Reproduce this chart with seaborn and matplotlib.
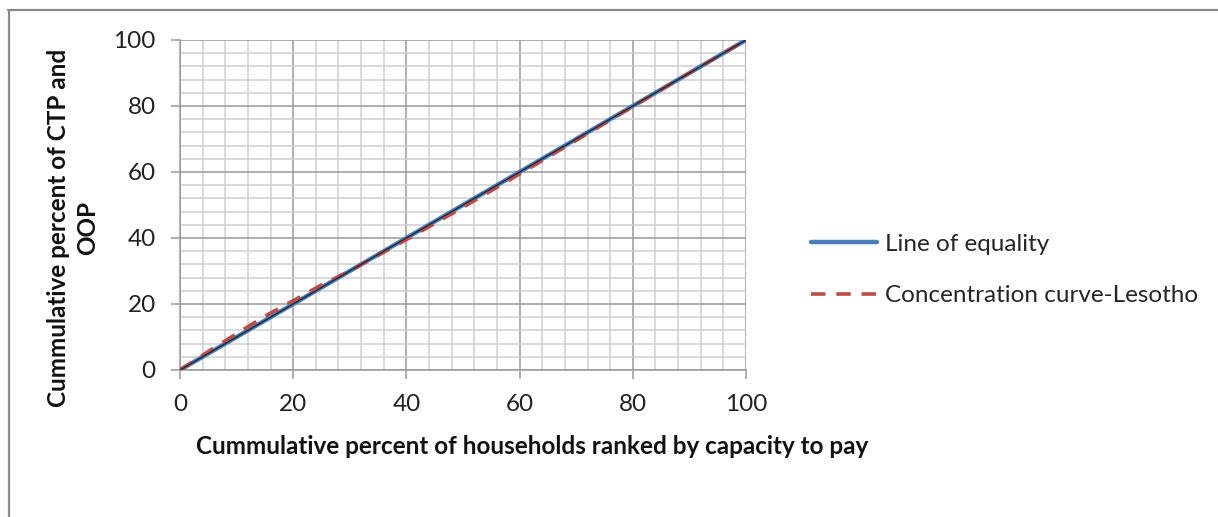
import matplotlib
matplotlib.use("Agg")
import matplotlib.pyplot as plt
import seaborn as sns
import pandas as pd
from matplotlib.ticker import MultipleLocator
from matplotlib.lines import Line2D

# ---- data ----
pop_share = [0, 5, 10, 15, 20, 25, 30, 40, 50, 60, 70, 80, 90, 100]
equality = [0, 5, 10, 15, 20, 25, 30, 40, 50, 60, 70, 80, 90, 100]
concentration = [0, 5.6, 11.0, 16.3, 21.0, 25.8, 30.0, 39.5, 49.3, 59.4, 69.6, 79.8, 90.0, 100]
series_names = ["Line of equality", "Concentration curve-Lesotho"]
x_ticks = [0, 20, 40, 60, 80, 100]
y_ticks = [0, 20, 40, 60, 80, 100]

df = pd.concat([
    pd.DataFrame({"x": pop_share, "y": equality, "series": series_names[0]}),
    pd.DataFrame({"x": pop_share, "y": concentration, "series": series_names[1]}),
])

sns.set_style("white")
plt.rcParams["font.family"] = ["Lato", "DejaVu Sans"]

W, H = 1218, 517
fig = plt.figure(figsize=(W / 100, H / 100), dpi=100)
ax = fig.add_axes([180 / W, 1 - 370 / H, (746 - 180) / W, (370 - 40) / H])

blue = "#4A7EBB"
red = "#BE4B48"

sns.lineplot(data=df[df.series == series_names[0]], x="x", y="y", ax=ax,
             color=blue, lw=3.2, legend=False, zorder=3)
sns.lineplot(data=df[df.series == series_names[1]], x="x", y="y", ax=ax,
             color=red, lw=2.6, dashes=[(4, 3)], style="series", legend=False, zorder=4)
# dark centre stroke of equality line
sns.lineplot(data=df[df.series == series_names[0]], x="x", y="y", ax=ax,
             color="#1a2a3a", lw=1.0, legend=False, zorder=5)

ax.set_xlim(0, 100)
ax.set_ylim(0, 100)
ax.set_xticks(x_ticks)
ax.set_yticks(y_ticks)
ax.xaxis.set_minor_locator(MultipleLocator(4))
ax.yaxis.set_minor_locator(MultipleLocator(4))
ax.grid(which="major", color="#9a9a9a", lw=1.1, zorder=0)
ax.grid(which="minor", color="#cfcfcf", lw=1.1, zorder=0)
ax.set_axisbelow(True)
for s in ["top", "right"]:
    ax.spines[s].set_visible(False)
for s in ["left", "bottom"]:
    ax.spines[s].set_color("#9a9a9a")
    ax.spines[s].set_linewidth(1.1)
ax.tick_params(which="major", length=6.5, width=1.1, color="#9a9a9a",
               labelsize=17.5, labelcolor="#222222", pad=11, direction="out",
               bottom=True, left=True)
ax.tick_params(which="minor", length=0)
ax.set_xlabel("")
ax.set_ylabel("")

fig.text(532 / W, 1 - 447 / H, "Cummulative percent of households ranked by capacity to pay",
         ha="center", va="center", fontsize=17.5, fontweight="bold", color="#111111")
fig.text(59 / W, 1 - 228 / H, "Cummulative percent of CTP and", rotation=90,
         ha="center", va="center", fontsize=17.5, fontweight="bold", color="#111111")
fig.text(88 / W, 1 - 228 / H, "OOP", rotation=90,
         ha="center", va="center", fontsize=17.5, fontweight="bold", color="#111111")

handles = [Line2D([0], [0], color=blue, lw=3.2),
           Line2D([0], [0], color=red, lw=2.6, dashes=(4, 3))]
fig.legend(handles, series_names, loc="upper left",
           bbox_to_anchor=(789 / W, 1 - 212 / H), frameon=False,
           fontsize=17.5, handlelength=2.7, handletextpad=0.35, labelspacing=1.25)

# outer frame (top and left edges)
fig.add_artist(Line2D([8 / W, 1], [1 - 9.5 / H, 1 - 9.5 / H], transform=fig.transFigure,
                      color="#8a8a8a", lw=1.6))
fig.add_artist(Line2D([8.5 / W, 8.5 / W], [0, 1 - 9.5 / H], transform=fig.transFigure,
                      color="#8a8a8a", lw=1.6))

fig.savefig("out.png", dpi=100, facecolor="white")
